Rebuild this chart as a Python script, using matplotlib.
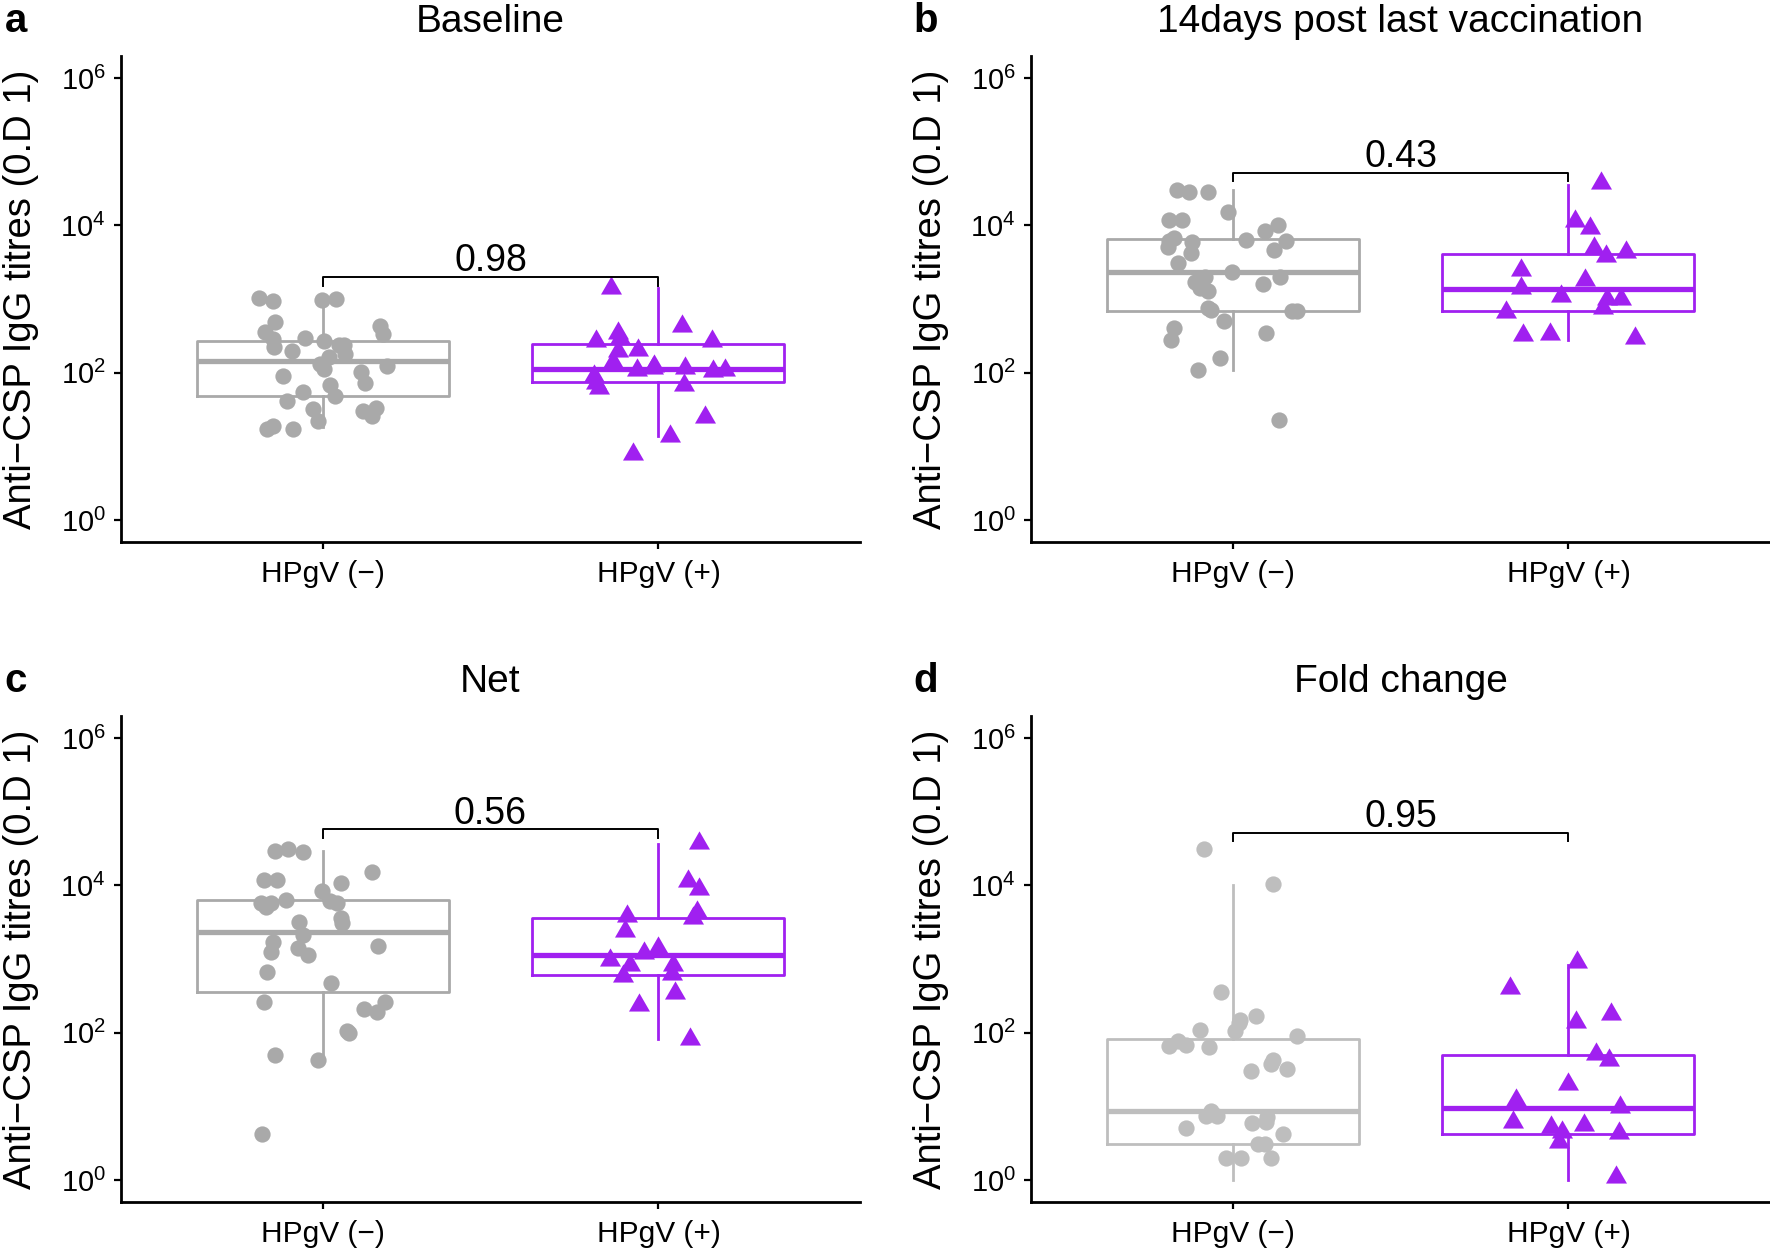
import numpy as np
import matplotlib
matplotlib.use("Agg")
import matplotlib.pyplot as plt
from matplotlib.ticker import NullLocator

plt.rcParams["font.family"] = ["Liberation Sans", "DejaVu Sans"]
plt.rcParams["mathtext.fontset"] = "custom"
plt.rcParams["mathtext.rm"] = "Liberation Sans"
plt.rcParams["mathtext.default"] = "regular"

groups = ["HPgV (\u2212)", "HPgV (+)"]
titles = ["Baseline", "14days post last vaccination", "Net", "Fold change"]
letters = ["a", "b", "c", "d"]
p_values = ["0.98", "0.43", "0.56", "0.95"]
bracket_y = [2000, 52000, 57500, 52000]
ylabel = "Anti\u2212CSP IgG titres (0.D 1)"

# titres
base_neg = [930, 980, 1000, 1020, 480, 430, 360, 290, 340, 240, 295, 270, 235, 195,
            220, 102, 178, 112, 72, 162, 123, 89, 69, 129, 54, 48, 41, 30, 26, 19,
            22, 17, 17, 33, 32]
base_pos = [1400, 430, 350, 270, 295, 270, 195, 205, 123, 105, 115, 110, 89, 141,
            110, 115, 69, 62, 72, 25, 14, 7.8]

d14_neg = [28800, 30200, 28200, 11700, 10200, 15100, 11700, 8300, 5900, 6800, 6300,
           6200, 6200, 4700, 4200, 3100, 5100, 2000, 1600, 2300, 2000, 1700, 1300,
           1400, 680, 690, 710, 510, 760, 350, 280, 400, 160, 110, 23]
d14_pos = [38000, 11500, 9300, 5000, 3800, 4300, 2500, 1800, 1400, 1100, 1000, 1000,
           760, 660, 340, 320, 300]

net_neg = [29500, 31600, 28200, 11700, 15100, 10700, 11700, 8300, 5100, 5800, 6300,
           5800, 5800, 6200, 3600, 3200, 3100, 2100, 1700, 1400, 1150, 1500, 1260,
           660, 470, 260, 190, 100, 260, 210, 105, 50, 43, 4.2]
net_pos = [38000, 11500, 8900, 3600, 3800, 4300, 2400, 980, 1200, 1400, 830, 830,
           620, 580, 350, 240, 83]

fold_neg = [31000, 10500, 355, 148, 166, 105, 107, 91, 76, 63, 135, 66, 68, 42, 37,
            30, 32, 7.2, 7.4, 5.9, 8.5, 6.2, 7.4, 5.1, 4.2, 3.1, 3.1, 2.0, 2.0, 2.0]
fold_pos = [910, 410, 141, 178, 52, 42, 20, 9.8, 12.3, 4.3, 5.2, 6.2, 5.5, 4.5, 3.3, 1.1]

# box stats: lower whisker, q1, median, q3, upper whisker
base_neg_box = [18, 48, 142, 268, 1000]
base_pos_box = [13.7, 74, 113, 247, 1400]
d14_neg_box = [110, 690, 2340, 6600, 30000]
d14_pos_box = [280, 690, 1380, 4100, 35000]
net_neg_box = [50, 355, 2300, 6300, 29500]
net_pos_box = [83, 600, 1120, 3600, 36000]
fold_neg_box = [1.0, 3.1, 8.5, 83, 10200]
fold_pos_box = [1.0, 4.2, 9.4, 50, 830]

panels = [
    (base_neg, base_pos, base_neg_box, base_pos_box),
    (d14_neg, d14_pos, d14_neg_box, d14_pos_box),
    (net_neg, net_pos, net_neg_box, net_pos_box),
    (fold_neg, fold_pos, fold_neg_box, fold_pos_box),
]

PURPLE = "#A020F0"
greys = ["#A9A9A9", "#A9A9A9", "#A9A9A9", "#BEBEBE"]
tri = [(0, 1), (-0.866, -0.5), (0.866, -0.5)]

W, H = 1770, 1248
fig = plt.figure(figsize=(W / 100, H / 100), dpi=100)
lefts = [121, 1031, 121, 1031]
tops = [56, 56, 716, 716]
aw, ah = 739, 486

rng = np.random.default_rng(11)

for i, (neg, pos, nbox, pbox) in enumerate(panels):
    ax = fig.add_axes([lefts[i] / W, 1 - (tops[i] + ah) / H, aw / W, ah / H])
    grey = greys[i]
    for k, (box, col) in enumerate([(nbox, grey), (pbox, PURPLE)]):
        st = dict(whislo=box[0], q1=box[1], med=box[2], q3=box[3], whishi=box[4])
        ax.bxp([st], positions=[k + 1], widths=0.75, showfliers=False, showcaps=False,
               boxprops=dict(color=col, lw=2.0),
               whiskerprops=dict(color=col, lw=2.0),
               medianprops=dict(color=col, lw=3.8, solid_capstyle="butt"))
    # jitter like geom_jitter
    xn = 1 + rng.uniform(-0.2, 0.2, len(neg))
    xp = 2 + rng.uniform(-0.2, 0.2, len(pos))
    ax.scatter(xn, neg, s=137, marker="o", color=grey, linewidths=0, zorder=3)
    ax.scatter(xp, pos, s=305, marker=tri, color=PURPLE, linewidths=0, zorder=3)

    yb = bracket_y[i]
    ax.plot([1, 1, 2, 2], [yb / 10 ** 0.12, yb, yb, yb / 10 ** 0.12],
            color="black", lw=1.4, zorder=4)
    ax.annotate(p_values[i], xy=(1.5, yb), xytext=(0, 4), textcoords="offset points",
                ha="center", va="baseline", fontsize=27)

    ax.set_yscale("log")
    ax.set_ylim(10 ** -0.3, 10 ** 6.3)
    ax.set_yticks([1, 1e2, 1e4, 1e6])
    ax.yaxis.set_minor_locator(NullLocator())
    ax.set_xlim(0.4, 2.6)
    ax.set_xticks([1, 2])
    ax.set_xticklabels(groups)
    for s in ["top", "right"]:
        ax.spines[s].set_visible(False)
    for s in ["left", "bottom"]:
        ax.spines[s].set_linewidth(2.0)
    ax.tick_params(axis="x", length=5, width=1.6, pad=8, labelsize=21.5)
    ax.tick_params(axis="y", length=5, width=1.6, pad=6, labelsize=21)

    ax.set_ylabel(ylabel, fontsize=27.5, va="baseline")
    ax.yaxis.set_label_coords(-0.122, 0.5)
    ax.text(0.5, 1 + 24.5 / ah, titles[i], transform=ax.transAxes,
            ha="center", va="baseline", fontsize=28)
    fig.text((lefts[i] - 105) / W, 1 - (tops[i] - 24) / H, letters[i],
             ha="center", va="baseline", fontsize=29, fontweight="bold")

fig.savefig("out.png", dpi=100)
